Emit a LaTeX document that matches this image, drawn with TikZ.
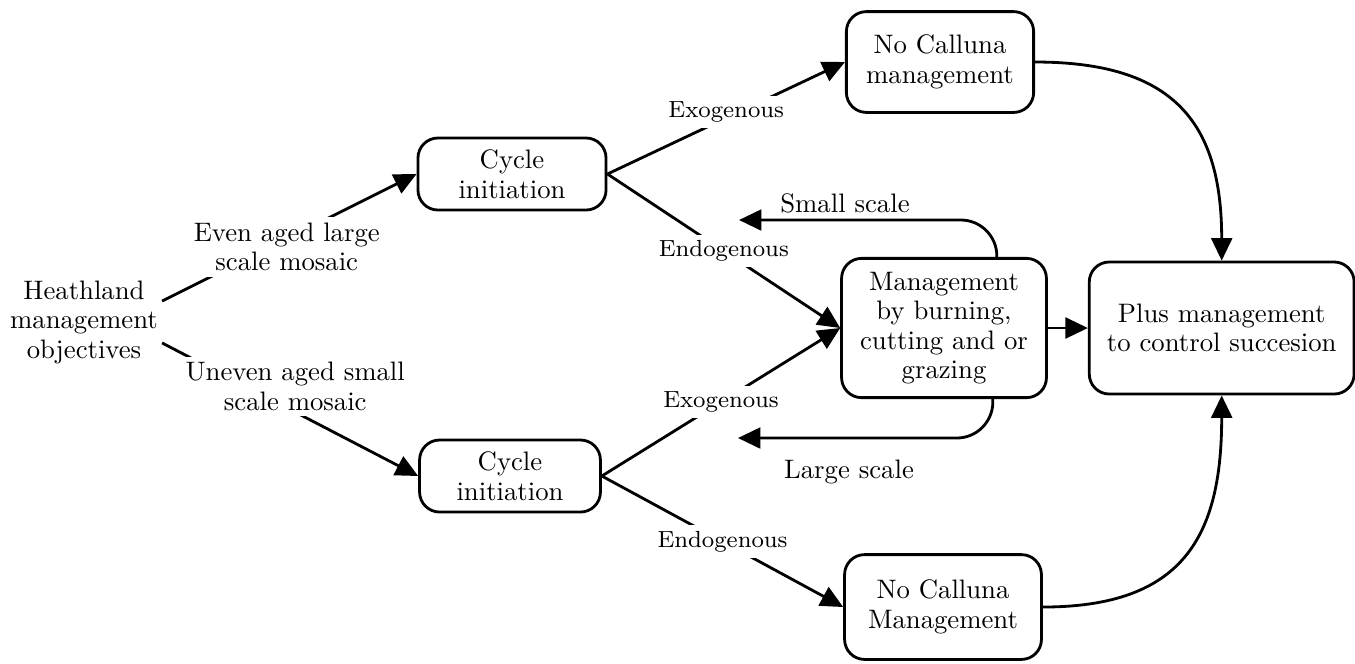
\documentclass[tikz,border=0pt]{standalone}
\usetikzlibrary{arrows.meta,positioning}

\newcommand{\boxfont}{\fontsize{9.5}{10.5}\selectfont}
\newcommand{\lblfont}{\fontsize{8.3}{9.5}\selectfont}

\begin{document}
\begin{tikzpicture}[x=0.0125cm,y=-0.0125cm,>={Triangle[length=0.28cm,width=0.26cm]},line width=1pt,
	box/.style={draw,rounded corners=0.25cm,align=center,font=\boxfont},
	txt/.style={align=center,font=\boxfont,inner sep=1pt},
	lbl/.style={fill=white,font=\lblfont,inner sep=2pt},
	objlbl/.style={fill=white,align=center,font=\boxfont,inner sep=2pt}]

\useasboundingbox (0,0) rectangle (1355,663);

\node[txt]   (obj)  at (84,322)   {Heathland\\management\\objectives};
 \node[box,minimum width=2.35cm,minimum height=0.9cm]  (cyc1) at (512,174)  {Cycle\\initiation};
	\node[box,minimum width=2.26cm,minimum height=0.9cm]  (cyc2) at (510,476)  {Cycle\\initiation};
	\node[box,minimum width=2.34cm,minimum height=1.26cm] (top)  at (940,62)   {No Calluna\\management};
	\node[box,minimum width=2.56cm,minimum height=1.74cm] (mgmt) at (944,328)  {Management\\by burning,\\cutting and or\\grazing};
	\node[box,minimum width=2.46cm,minimum height=1.31cm] (bot)  at (943,607)  {No Calluna\\Management};
	\node[box,minimum width=3.31cm,minimum height=1.65cm] (plus) [right=0.5cm of mgmt] {Plus management\\to control succesion};

	\coordinate (smalltip) at (739,220);
	\coordinate (largetip) at (738,438);
	\node[font=\boxfont] (smalllbl) at (845,203) {Small scale};
	\node[font=\boxfont] (largelbl) at (849,472) {Large scale};

	\path[->] (obj.15)  edge  node[objlbl,pos=0.49,yshift=-0.1cm] {Even aged large\\scale mosaic}  (cyc1.west)
		(obj.-15) edge  node[objlbl,pos=0.52,yshift=0.32cm] {Uneven aged small\\scale mosaic} (cyc2.west)

		(cyc1.east) edge  node[lbl,yshift=0.07cm] {Exogenous}  (top.west)
			edge  node[lbl] {Endogenous}  (mgmt.west)

		(cyc2.east) edge  node[lbl] {Exogenous}  (mgmt.west)
			edge  node[lbl] {Endogenous}  (bot.west)

		(mgmt) edge  (plus)
		(top.east) edge[out=0,in=90,looseness=1.3]  (plus.north)
		(bot.east) edge[out=0,in=-90,looseness=1.3]  (plus.south);

	\draw[->,rounded corners=0.45cm] ([xshift=0.66cm]mgmt.north) |- (smalltip);
	\draw[->,rounded corners=0.45cm] ([xshift=0.61cm]mgmt.south) |- (largetip);

\end{tikzpicture}
\end{document}
